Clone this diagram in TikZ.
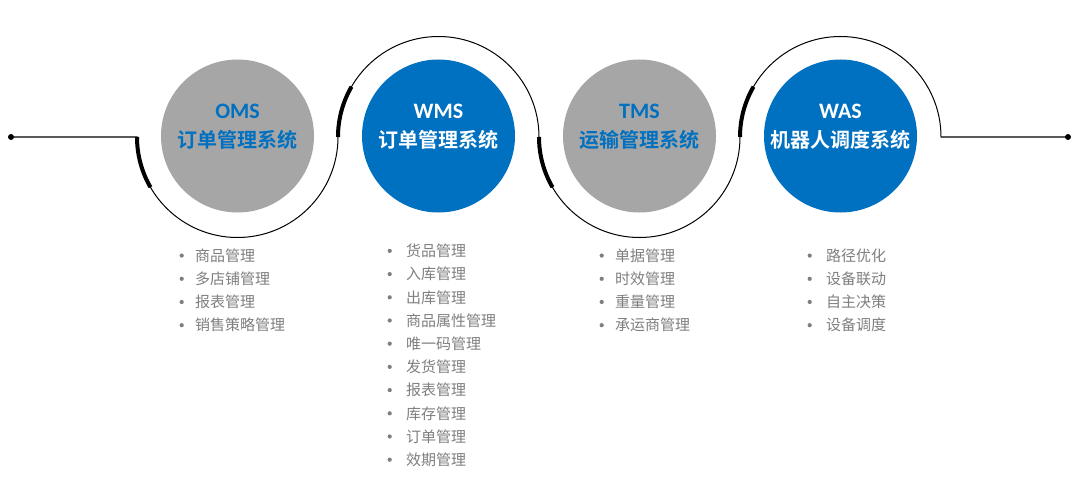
\documentclass[tikz,border=0pt]{standalone}
\usepackage{fontspec}
\setmainfont{Carlito}[BoldFont={Carlito Bold}]
\newfontfamily\cjk{Noto Sans CJK SC}[BoldFont={Noto Sans CJK SC Bold}]
\usetikzlibrary{positioning}
\definecolor{sysblue}{RGB}{0,112,192}
\definecolor{sysgray}{RGB}{166,166,166}
\definecolor{itemgray}{RGB}{127,127,127}

\begin{document}
\begin{tikzpicture}[x=1pt,y=1pt,
  graycirc/.style={circle,fill=sysgray,minimum size=153pt,inner sep=0},
  bluecirc/.style={circle,fill=sysblue,minimum size=153pt,inner sep=0},
  abbr/.style={anchor=base,font=\bfseries\fontsize{22}{22}\selectfont,inner sep=0},
  fullname/.style={anchor=base,font=\cjk\bfseries\fontsize{20}{20}\selectfont,inner sep=0},
  enddot/.style={circle,fill=black,minimum size=6pt,inner sep=0},
  wave/.style={line width=1pt},
  heavy/.style={line width=4pt},
  item/.style={anchor=base west,text=itemgray,font=\cjk\fontsize{15}{15}\selectfont,inner sep=0},
  bul/.style={circle,fill=itemgray,minimum size=4.2pt,inner sep=0}]

\path[use as bounding box,fill=white] (0,0) rectangle (1081,491);

% systems
\node[graycirc] (oms) at (237.5,355) {};
\node[bluecirc] (wms) at (438.5,355) {};
\node[graycirc] (tms) at (639.5,355) {};
\node[bluecirc] (was) at (840.5,355) {};

\node[abbr,text=sysblue] (omsa) at (237.5,372) {OMS};
\node[fullname,text=sysblue] (omsn) at (237.5,343.4) {订单管理系统};
\node[abbr,text=white] (wmsa) at (438.5,372) {WMS};
\node[fullname,text=white] (wmsn) at (438.5,343.4) {订单管理系统};
\node[abbr,text=sysblue] (tmsa) at (639.5,372) {TMS};
\node[fullname,text=sysblue] (tmsn) at (639.5,343.4) {运输管理系统};
\node[abbr,text=white] (wasa) at (840.5,372) {WAS};
\node[fullname,text=white] (wasn) at (840.5,343.4) {机器人调度系统};

% wave line
\node[enddot] (ldot) at (11,354) {};
\node[enddot] (rdot) at (1068,354) {};
\coordinate (w0) at (137,354);
\coordinate (w1) at (338,354);
\coordinate (w2) at (539,354);
\coordinate (w3) at (740,354);
\draw[wave] (ldot.center) -- (w0)
  arc[start angle=180,end angle=360,radius=100.5]
  arc[start angle=180,end angle=0,radius=100.5]
  arc[start angle=180,end angle=360,radius=100.5]
  arc[start angle=180,end angle=0,radius=100.5] -- (rdot.center);
\draw[heavy] (w0) arc[start angle=180,end angle=210,radius=100.5];
\draw[heavy] (w1) arc[start angle=180,end angle=150,radius=100.5];
\draw[heavy] (w2) arc[start angle=180,end angle=210,radius=100.5];
\draw[heavy] (w3) arc[start angle=180,end angle=150,radius=100.5];

% lists
\foreach \lbl [count=\i from 0] in {商品管理,多店铺管理,报表管理,销售策略管理}{
  \node[item] (omsi\i) at (195,229.7-23.2*\i) {\lbl};
  \node[bul,left=11pt of omsi\i.west] (omsb\i) {};
}
\foreach \lbl [count=\i from 0] in {货品管理,入库管理,出库管理,商品属性管理,唯一码管理,发货管理,报表管理,库存管理,订单管理,效期管理}{
  \node[item] (wmsi\i) at (406,234.4-23.2*\i) {\lbl};
  \node[bul,left=14pt of wmsi\i.west] (wmsb\i) {};
}
\foreach \lbl [count=\i from 0] in {单据管理,时效管理,重量管理,承运商管理}{
  \node[item] (tmsi\i) at (615,229.7-23.2*\i) {\lbl};
  \node[bul,left=11pt of tmsi\i.west] (tmsb\i) {};
}
\foreach \lbl [count=\i from 0] in {路径优化,设备联动,自主决策,设备调度}{
  \node[item] (wasi\i) at (826,229.7-23.2*\i) {\lbl};
  \node[bul,left=14pt of wasi\i.west] (wasb\i) {};
}
\end{tikzpicture}
\end{document}
